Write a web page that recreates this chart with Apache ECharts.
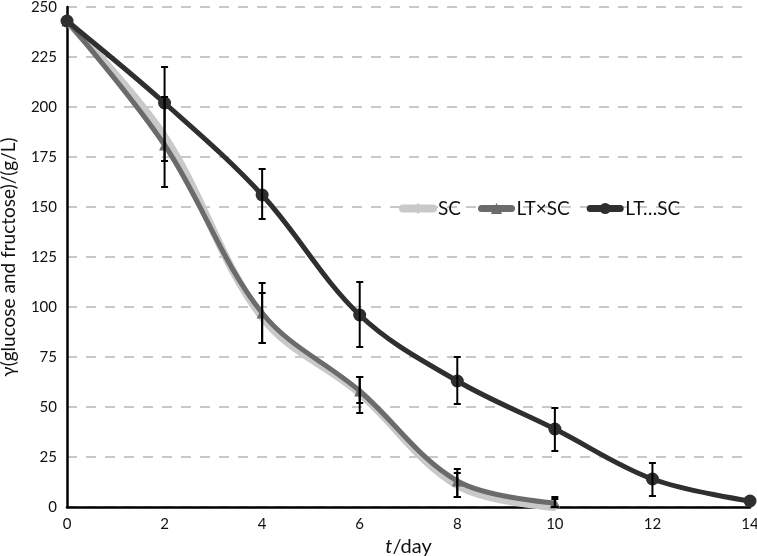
<!DOCTYPE html>
<html><head><meta charset="utf-8">
<script src="https://cdn.jsdelivr.net/npm/echarts@6/dist/echarts.min.js"></script>
<style>html,body{margin:0;padding:0;background:#fff}#c{width:757px;height:556px}</style>
</head><body><div id="c"></div>
<script>
const days = [0, 2, 4, 6, 8, 10, 12, 14];
const scValues = [243, 185, 95, 57, 11, 0];
const scErrLow = [243, 173, 82, 52, 5, 0];
const scErrHigh = [243, 205, 112, 65, 19, 5];
const ltxValues = [243, 181, 97, 58, 13, 2];
const ltxErrLow = [243, 181, 82, 47, 5, 0];
const ltxErrHigh = [243, 181, 107, 65, 17, 4];
const ltdValues = [243, 202, 156, 96, 63, 39, 14, 3];
const ltdErrLow = [243, 160, 144, 80, 51.5, 28, 5.5, 3];
const ltdErrHigh = [243, 220, 169, 112.5, 75, 49.5, 22, 3];
const yTicks = [0, 25, 50, 75, 100, 125, 150, 175, 200, 225, 250];
const seriesNames = ['SC', 'LT×SC', 'LT…SC'];
const colors = ['#c9c9c9', '#6b6b6b', '#2f2f2f'];

const pts = v => v.map((y, i) => [days[i], y]);
const errs = (lo, hi) => lo.map((l, i) => [days[i], l, hi[i]]);

const errSeries = data => ({
  type: 'custom', z: 10, silent: true,
  data: data,
  renderItem: (params, api) => {
    const x = api.value(0), lo = api.value(1), hi = api.value(2);
    if (hi - lo < 0.5) return null;
    const a = api.coord([x, lo]), b = api.coord([x, hi]);
    const w = 3.5;
    const st = {stroke: '#000', lineWidth: 2};
    return {type: 'group', children: [
      {type: 'line', shape: {x1: a[0], y1: a[1], x2: b[0], y2: b[1]}, style: st},
      {type: 'line', shape: {x1: a[0]-w, y1: a[1], x2: a[0]+w, y2: a[1]}, style: st},
      {type: 'line', shape: {x1: b[0]-w, y1: b[1], x2: b[0]+w, y2: b[1]}, style: st}
    ]};
  }
});

const chart = echarts.init(document.getElementById('c'), null, {renderer: 'canvas'});
const font = 'Lato, "Open Sans", sans-serif';
chart.setOption({
  animation: false,
  textStyle: {fontFamily: font},
  grid: {left: 67, right: 7, top: 7, bottom: 49, containLabel: false, outerBoundsMode: 'none'},
  legend: {
    data: seriesNames.map((n, i) => ({name: n,
      lineStyle: {width: i === 0 ? 8 : 7, color: colors[i], cap: 'round'}})),
    left: 394, top: 194, itemWidth: 30, itemHeight: 14, itemGap: 17,
    textStyle: {fontSize: 19, color: '#111', fontFamily: font}
  },
  xAxis: {
    type: 'value', min: 0, max: 14, interval: 2,
    axisLine: {show: true, lineStyle: {color: '#000', width: 2.5}},
    axisTick: {show: false},
    splitLine: {show: false},
    axisLabel: {fontSize: 15, color: '#111', margin: 10, fontFamily: font},
    name: '{i|t}{n|/day}', nameLocation: 'middle', nameGap: 30,
    nameTextStyle: {rich: {i: {fontStyle: 'italic', fontSize: 20, color: '#111', fontFamily: font},
                           n: {fontSize: 20, color: '#111', fontFamily: font}}}
  },
  yAxis: {
    type: 'value', min: 0, max: 250, interval: 25,
    axisLine: {show: true, lineStyle: {color: '#000', width: 2.5}},
    axisTick: {show: false},
    splitLine: {show: true, lineStyle: {color: '#c8c8c8', width: 2, type: [10, 9]}},
    axisLabel: {fontSize: 15, color: '#111', margin: 10, fontFamily: font,
      customValues: yTicks},
    name: 'γ(glucose and fructose)/(g/L)', nameLocation: 'middle', nameGap: 49,
    nameTextStyle: {fontSize: 19, color: '#111', fontFamily: font}
  },
  series: [
    {name: seriesNames[0], type: 'line', data: pts(scValues), smooth: 0.35, z: 2,
     symbol: 'diamond', symbolSize: 8, showSymbol: true,
     lineStyle: {color: colors[0], width: 8}, itemStyle: {color: colors[0]}},
    {name: seriesNames[1], type: 'line', data: pts(ltxValues), smooth: 0.35, z: 3,
     symbol: 'triangle', symbolSize: 11,
     lineStyle: {color: colors[1], width: 5}, itemStyle: {color: colors[1]}},
    {name: seriesNames[2], type: 'line', data: pts(ltdValues), smooth: 0.35, z: 4,
     symbol: 'circle', symbolSize: 13,
     lineStyle: {color: colors[2], width: 5}, itemStyle: {color: colors[2]}},
    errSeries(errs(scErrLow, scErrHigh)),
    errSeries(errs(ltxErrLow, ltxErrHigh)),
    errSeries(errs(ltdErrLow, ltdErrHigh))
  ]
});
</script></body></html>
